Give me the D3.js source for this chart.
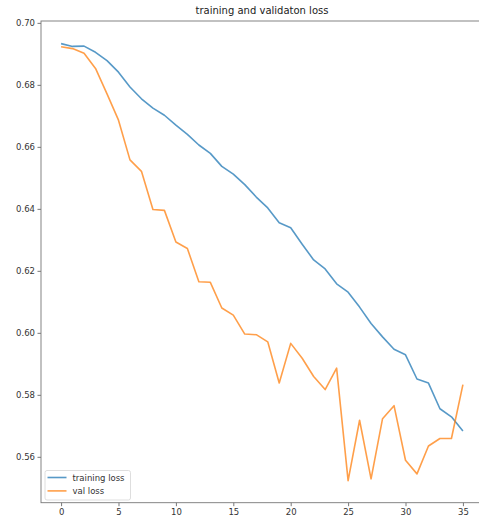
<!doctype html>
<html>
<head>
<meta charset="UTF-8" />
<script src="https://d3js.org/d3.v7.min.js"></script>
<style>
  body { margin: 0; background: #fff; }
  svg { display: block; font-family: "DejaVu Sans", sans-serif; }
</style>
</head>
<body>
<svg id="chart" width="479" height="518"></svg>
<script>
// epochs 0..35
const epochs = d3.range(0, 36);

const trainingLoss = [
  0.6933, 0.6924, 0.6925, 0.6905, 0.6878, 0.6841, 0.6793, 0.6755, 0.6725, 0.6702,
  0.6670, 0.6640, 0.6606, 0.6579, 0.6537, 0.6512, 0.6478, 0.6438, 0.6403, 0.6355,
  0.6339, 0.6286, 0.6235, 0.6206, 0.6158, 0.6131, 0.6083, 0.6030, 0.5987, 0.5947,
  0.5929, 0.5851, 0.5838, 0.5755, 0.5729, 0.5683
];

const valLoss = [
  0.6923, 0.6917, 0.6902, 0.6853, 0.6771, 0.6686, 0.6558, 0.6521, 0.6398, 0.6395,
  0.6293, 0.6272, 0.6165, 0.6163, 0.6080, 0.6057, 0.5996, 0.5994, 0.5971, 0.5838,
  0.5966, 0.5918, 0.5859, 0.5817, 0.5886, 0.5523, 0.5718, 0.5529, 0.5723, 0.5765,
  0.5589, 0.5545, 0.5635, 0.5659, 0.5659, 0.5833
];

const xTicks = [0, 5, 10, 15, 20, 25, 30, 35];
const yTicks = [0.56, 0.58, 0.60, 0.62, 0.64, 0.66, 0.68, 0.70];

const seriesNames = ["training loss", "val loss"];
const seriesColors = ["#1f77b4", "#ff7f0e"];

(function () {
  const svg = d3.select("#chart");
  const plot = { left: 41, right: 483, top: 21, bottom: 502.7 };

  const x = d3.scaleLinear().domain([-1.75, 36.75]).range([plot.left, plot.right]);
  const y = d3.scaleLinear().domain([0.5452, 0.7006]).range([plot.bottom, plot.top]);

  // title
  svg.append("text")
    .attr("x", (plot.left + plot.right) / 2)
    .attr("y", 14)
    .attr("text-anchor", "middle")
    .attr("font-size", 10)
    .attr("fill", "#222")
    .text("training and validaton loss");

  // axes
  const xAxis = d3.axisBottom(x).tickValues(xTicks).tickFormat(d3.format("d")).tickSize(3.5).tickPadding(2.5);
  const yAxis = d3.axisLeft(y).tickValues(yTicks).tickFormat(d3.format(".2f")).tickSize(3.5).tickPadding(2.5);

  const gx = svg.append("g").attr("transform", `translate(0,${plot.bottom})`).call(xAxis);
  const gy = svg.append("g").attr("transform", `translate(${plot.left},0)`).call(yAxis);

  [gx, gy].forEach(g => {
    g.select(".domain").remove();
    g.selectAll(".tick line").attr("stroke", "#555").attr("stroke-width", 0.8);
    g.selectAll(".tick text").attr("font-size", 8.5).attr("fill", "#333").attr("font-family", "DejaVu Sans, sans-serif");
  });

  // spines
  svg.append("rect")
    .attr("x", plot.left).attr("y", plot.top)
    .attr("width", plot.right - plot.left).attr("height", plot.bottom - plot.top)
    .attr("fill", "none")
    .attr("stroke", "#777")
    .attr("stroke-width", 0.9);

  // lines
  const line = d3.line().x((d, i) => x(epochs[i])).y(d => y(d));

  [trainingLoss, valLoss].forEach((s, k) => {
    svg.append("path")
      .datum(s)
      .attr("fill", "none")
      .attr("stroke", seriesColors[k])
      .attr("stroke-opacity", 0.75)
      .attr("stroke-width", 1.6)
      .attr("stroke-linejoin", "round")
      .attr("d", line);
  });

  // legend
  const lg = svg.append("g").attr("transform", "translate(45,470.5)");
  lg.append("rect")
    .attr("width", 85.5).attr("height", 29.5)
    .attr("rx", 2)
    .attr("fill", "#fff").attr("fill-opacity", 0.8)
    .attr("stroke", "#d6d6d6").attr("stroke-width", 0.8);

  seriesNames.forEach((name, k) => {
    const yy = 7 + k * 13.4;
    lg.append("line")
      .attr("x1", 2.5).attr("x2", 21.5)
      .attr("y1", yy).attr("y2", yy)
      .attr("stroke", seriesColors[k])
      .attr("stroke-opacity", 0.75)
      .attr("stroke-width", 1.6);
    lg.append("text")
      .attr("x", 27.5).attr("y", yy + 3)
      .attr("font-size", 8.5)
      .attr("fill", "#333")
      .text(name);
  });
})();
</script>
</body>
</html>
